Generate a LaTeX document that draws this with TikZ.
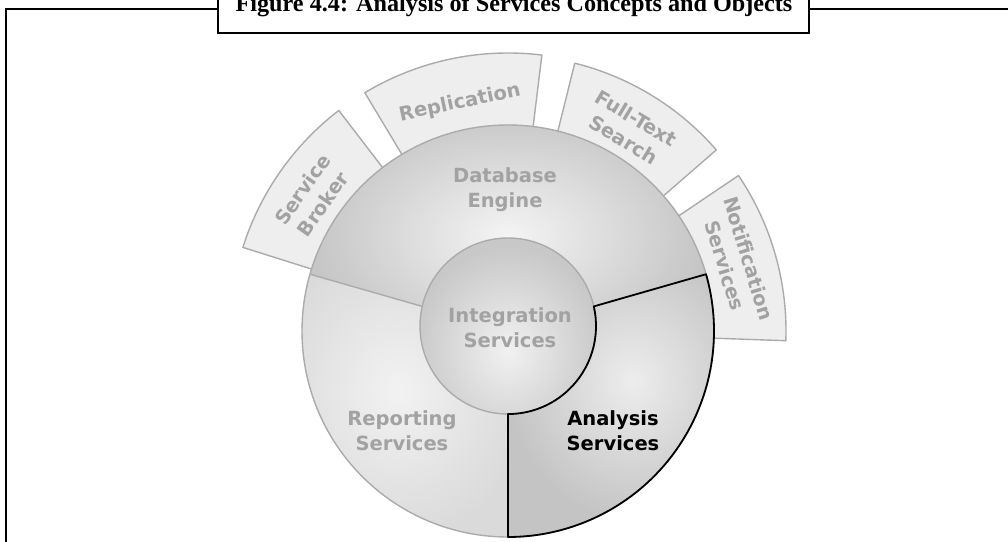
\documentclass[tikz,border=0pt]{standalone}
\usepackage{fontspec}
\setmainfont{Liberation Serif}
\newfontfamily\labelfont{DejaVu Sans}
\definecolor{rimgray}{HTML}{ABABAB}
\definecolor{boxfill}{HTML}{EEEEEE}
\definecolor{labelgray}{HTML}{A2A2A2}
\definecolor{dbouter}{HTML}{C6C6C6}
\definecolor{dbinner}{HTML}{F4F4F4}
\definecolor{rpouter}{HTML}{DADADA}
\definecolor{rpinner}{HTML}{F2F2F2}
\definecolor{anouter}{HTML}{C4C4C4}
\definecolor{aninner}{HTML}{EDEDED}
\definecolor{inouter}{HTML}{C8C8C8}
\definecolor{ininner}{HTML}{F1F1F1}
\tikzset{
  boxsector/.style={fill=boxfill, draw=rimgray, line width=1.4pt, line join=round},
  seglabel/.style={font=\labelfont\bfseries\fontsize{19.5}{25}\selectfont, text=labelgray, align=center, inner sep=0pt},
  keylabel/.style={seglabel, text=black},
  grayline/.style={draw=rimgray, line width=1.4pt},
  blackline/.style={draw=black, line width=1.8pt, line join=round},
  frameline/.style={draw=black, line width=2pt}
}
\begin{document}
\begin{tikzpicture}[x=1pt,y=1pt]
\useasboundingbox (0,0) rectangle (1008,541);
\clip (0,0) rectangle (1008,541);
\fill[white] (0,0) rectangle (1008,541);

% frame and caption
\draw[frameline] (6,-10) -- (6,532) -- (218,532);
\draw[frameline] (809,532) -- (1020,532);
\draw[frameline, fill=white] (218,560) -- (218,508) -- (809,508) -- (809,560);
\node[font=\bfseries\fontsize{24.2}{29}\selectfont, anchor=base, inner sep=0pt] (cap) at (514,529) {Figure 4.4: Analysis of Services Concepts and Objects};

\coordinate (C) at (508,210);
\begin{scope}[shift={(C)}]
  % outer boxes
  \draw[boxsector] (127.5:190) -- (127.5:278) arc[start angle=127.5, end angle=162.5, radius=278] -- (162.5:190) -- cycle;
  \draw[boxsector] (83:190) -- (83:278) arc[start angle=83, end angle=121, radius=278] -- (121:190) -- cycle;
  \draw[boxsector] (41:190) -- (41:276) arc[start angle=41, end angle=76, radius=276] -- (76:190) -- cycle;
  \draw[boxsector] (-2:190) -- (-2:278) arc[start angle=-2, end angle=34, radius=278] -- (34:190) -- cycle;
  \node[seglabel, rotate=55] (sb) at (145.5:237) {Service\\Broker};
  \node[seglabel, rotate=12] (rep) at (101.9:233) {Replication};
  \node[seglabel, rotate=-31] (fts) at (58.9:236) {Full-Text\\Search};
  \node[seglabel, rotate=-73] (ns) at (16.8:239) {Notification\\Services};

  % Database Engine segment
  \begin{scope}
    \clip (0,0) -- (16:206) arc[start angle=16, end angle=164, radius=206] -- cycle;
    \fill[dbouter] (-220,-10) rectangle (220,220);
    \shade[inner color=dbinner, outer color=dbouter] (0,95) ellipse (195 and 125);
  \end{scope}
  % Reporting segment
  \begin{scope}
    \clip (0,0) -- (164:206) arc[start angle=164, end angle=270, radius=206] -- cycle;
    \fill[rpouter] (-220,-220) rectangle (10,80);
    \shade[inner color=rpinner, outer color=rpouter] (-110,-60) ellipse (130 and 150);
  \end{scope}
  % Analysis segment
  \begin{scope}
    \clip (0,0) -- (-90:206) arc[start angle=-90, end angle=16, radius=206] -- cycle;
    \fill[anouter] (-10,-220) rectangle (220,80);
    \shade[inner color=aninner, outer color=anouter] (125,-50) ellipse (125 and 140);
  \end{scope}
  \draw[grayline] (0,0) circle (206);
  \draw[grayline] (0,0) -- (164:206);

  % inner circle
  \fill[inouter] (0,5) circle (88);
  \begin{scope}
    \clip (0,5) circle (88);
    \shade[inner color=ininner, outer color=inouter] (0,-20) ellipse (95 and 105);
  \end{scope}
  \draw[grayline] (0,5) circle (88);

  % Analysis outline
  \draw[blackline] (0,-83) -- (0,-206) arc[start angle=-90, end angle=16, radius=206] -- (85.8,24.6) arc[start angle=12.9, end angle=-90, radius=88] -- cycle;

  \node[seglabel] (db) at (-3,141) {Database\\Engine};
  \node[seglabel] (is) at (2,3.5) {Integration\\Services};
  \node[seglabel] (rs) at (-106,-99.5) {Reporting\\Services};
  \node[keylabel] (as) at (105,-99.5) {Analysis\\Services};
\end{scope}
\end{tikzpicture}
\end{document}
